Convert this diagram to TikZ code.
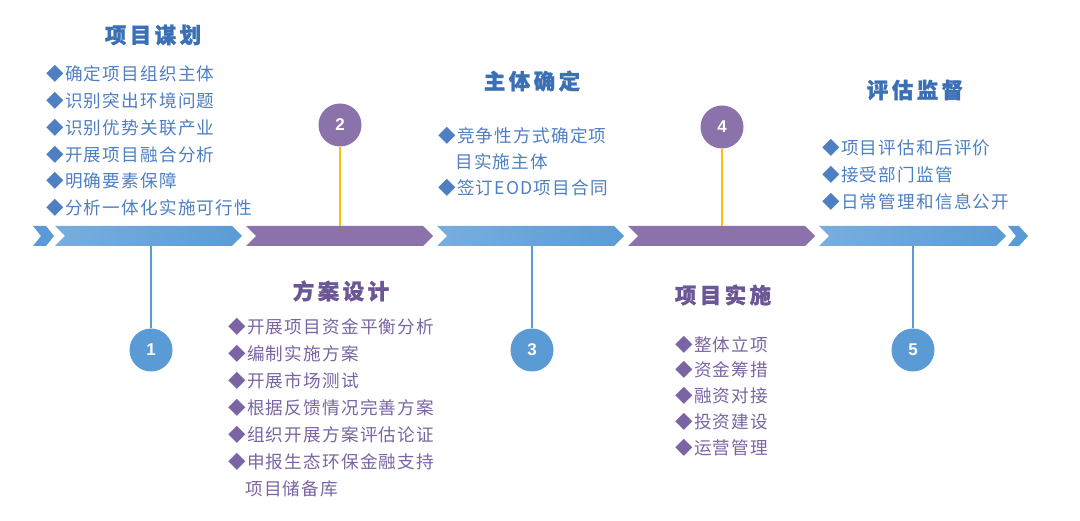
\documentclass[tikz,border=0pt]{standalone}
\usepackage{fontspec}
\setmainfont{Liberation Sans}
\newfontfamily\cjk[LetterSpace=7]{Noto Sans CJK SC}
\newfontfamily\cjkt[LetterSpace=16,FakeBold=1.3]{Noto Sans CJK SC}
\definecolor{bluebar}{HTML}{5B9BD5}
\definecolor{bluelight}{HTML}{78AEDE}
\definecolor{purplebar}{HTML}{8C72AA}
\definecolor{stemyellow}{HTML}{FFC000}
\definecolor{bluetext}{HTML}{4E7FC2}
\definecolor{bluetitle}{HTML}{3B70B5}
\definecolor{purpletext}{HTML}{7A64A3}
\definecolor{purpletitle}{HTML}{6B5795}
\tikzset{
  numcirc/.style={circle,minimum size=43pt,inner sep=0pt,text=white,font=\fontsize{17}{17}\selectfont\bfseries},
  bluecirc/.style={numcirc,fill=bluebar},
  purplecirc/.style={numcirc,fill=purplebar},
  bluestem/.style={draw=bluebar,line width=2pt},
  yellowstem/.style={draw=stemyellow,line width=2pt},
  titleblue/.style={text=bluetitle,font=\cjkt\bfseries\fontsize{21.5}{21.5}\selectfont,inner sep=0pt},
  titlepurple/.style={text=purpletitle,font=\cjkt\bfseries\fontsize{21.5}{21.5}\selectfont,inner sep=0pt},
  itemblue/.style={anchor=west,text=bluetext,font=\cjk\fontsize{17.6}{17.6}\selectfont,inner sep=0pt},
  itempurple/.style={anchor=west,text=purpletext,font=\cjk\fontsize{17.6}{17.6}\selectfont,inner sep=0pt},
}
\newcommand\mychev[1]{%
  (#1,226) -- ++(177,0) -- ++(10,10) -- ++(-10,10) -- ++(-177,0) -- ++(10,-10) -- cycle}
\begin{document}
\begin{tikzpicture}[x=1pt,y=-1pt]
\useasboundingbox (0,0) rectangle (1080,521);
% bar
\fill[bluebar] (33,226) -- (46,226) -- (54,236) -- (46,246) -- (33,246) -- (41,236) -- cycle;
\fill[bluebar] (1008,226) -- (1019,226) -- (1028,236) -- (1019,246) -- (1008,246) -- (1016,236) -- cycle;
\shade[left color=bluelight,right color=bluebar] \mychev{55};
\fill[purplebar] \mychev{246};
\shade[left color=bluelight,right color=bluebar] \mychev{437};
\fill[purplebar] \mychev{628};
\shade[left color=bluelight,right color=bluebar] \mychev{819};
% bar attachment points
\coordinate (b1) at (151,246);
\coordinate (b2) at (340,226);
\coordinate (b3) at (532,246);
\coordinate (b4) at (722,226);
\coordinate (b5) at (913,246);
% circles
\node[bluecirc] (c1) at (151,350) {1};
\node[purplecirc] (c2) at (340,125) {2};
\node[bluecirc] (c3) at (532,350) {3};
\node[purplecirc] (c4) at (722,127) {4};
\node[bluecirc] (c5) at (913,350) {5};
\draw[bluestem] (b1) -- (c1);
\draw[yellowstem] (c2) -- (b2);
\draw[bluestem] (b3) -- (c3);
\draw[yellowstem] (c4) -- (b4);
\draw[bluestem] (b5) -- (c5);
% column 1
\node[titleblue] (t1) at (153,35) {项目谋划};
\node[itemblue] (a1) at (46,74) {◆确定项目组织主体};
\node[itemblue] (a2) at (46,101) {◆识别突出环境问题};
\node[itemblue] (a3) at (46,128) {◆识别优势关联产业};
\node[itemblue] (a4) at (46,155) {◆开展项目融合分析};
\node[itemblue] (a5) at (46,181) {◆明确要素保障};
\node[itemblue] (a6) at (46,208) {◆分析一体化实施可行性};
% column 2
\node[titlepurple] (t2) at (341,291) {方案设计};
\node[itempurple] (p1) at (228,327) {◆开展项目资金平衡分析};
\node[itempurple] (p2) at (228,354) {◆编制实施方案};
\node[itempurple] (p3) at (228,381) {◆开展市场测试};
\node[itempurple] (p4) at (228,408) {◆根据反馈情况完善方案};
\node[itempurple] (p5) at (228,435) {◆组织开展方案评估论证};
\node[itempurple] (p6) at (228,462) {◆申报生态环保金融支持};
\node[itempurple] (p7) at (245,489) {项目储备库};
% column 3
\node[titleblue] (t3) at (532,81) {主体确定};
\node[itemblue] (s1) at (438,136) {◆竞争性方式确定项};
\node[itemblue] (s2) at (455,162) {目实施主体};
\node[itemblue] (s3) at (438,188) {◆签订EOD项目合同};
% column 4
\node[titlepurple] (t4) at (723,295) {项目实施};
\node[itempurple] (i1) at (675,345) {◆整体立项};
\node[itempurple] (i2) at (675,370) {◆资金筹措};
\node[itempurple] (i3) at (675,396) {◆融资对接};
\node[itempurple] (i4) at (675,422) {◆投资建设};
\node[itempurple] (i5) at (675,448) {◆运营管理};
% column 5
\node[titleblue] (t5) at (915,90) {评估监督};
\node[itemblue] (e1) at (822,148) {◆项目评估和后评价};
\node[itemblue] (e2) at (822,175) {◆接受部门监管};
\node[itemblue] (e3) at (822,202) {◆日常管理和信息公开};
\end{tikzpicture}
\end{document}
